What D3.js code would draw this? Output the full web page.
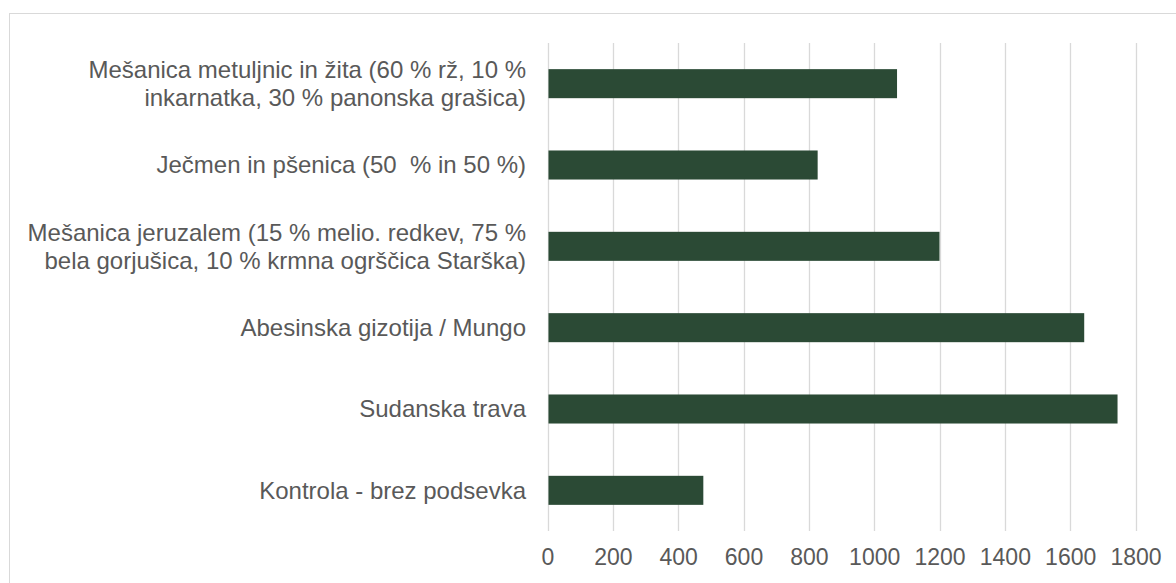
<!DOCTYPE html>
<html>
<head>
<meta charset="utf-8">
<script src="https://cdn.jsdelivr.net/npm/d3@7"></script>
<style>
  html, body { margin: 0; padding: 0; background: #fff; }
  svg { display: block; }
  text { white-space: pre; }
</style>
</head>
<body>
<svg id="chart" width="1176" height="583"></svg>
<script>
// Categories, top to bottom, each split into display lines
const categories = [
  "Mešanica metuljnic in žita (60 % rž, 10 %|inkarnatka, 30 % panonska grašica)",
  "Ječmen in pšenica (50  % in 50 %)",
  "Mešanica jeruzalem (15 % melio. redkev, 75 %|bela gorjušica, 10 % krmna ogrščica Starška)",
  "Abesinska gizotija / Mungo",
  "Sudanska trava",
  "Kontrola - brez podsevka"
];
const values = [1070, 827, 1200, 1643, 1745, 477];
const tickValues = [0, 200, 400, 600, 800, 1000, 1200, 1400, 1600, 1800];

const svg = d3.select("#chart");
const W = 1176, H = 583;
const plot = { left: 547.5, right: 1135.5, top: 43, bottom: 531 };
const fontFamily = "'Liberation Sans', Arial, sans-serif";
const textColor = "#595959";

// chart border
svg.append("rect")
  .attr("x", 9.5).attr("y", 13.5)
  .attr("width", W + 20).attr("height", H + 20)
  .attr("fill", "#fff")
  .attr("stroke", "#d9d9d9").attr("stroke-width", 1);

const x = d3.scaleLinear().domain([0, 1800]).range([plot.left, plot.right]);
const y = d3.scaleBand().domain(categories)
  .range([plot.top, plot.bottom])
  .paddingInner(0.643).paddingOuter(0.3215);

// gridlines
svg.append("g").selectAll("line").data(tickValues).join("line")
  .attr("x1", d => Math.round(x(d)) + 0.5)
  .attr("x2", d => Math.round(x(d)) + 0.5)
  .attr("y1", plot.top).attr("y2", plot.bottom)
  .attr("stroke", "#d9d9d9").attr("stroke-width", 1.3);

// bars
svg.append("g").selectAll("rect").data(categories).join("rect")
  .attr("x", x(0) + 1)
  .attr("y", d => y(d))
  .attr("width", (d, i) => x(values[i]) - x(0) - 1)
  .attr("height", y.bandwidth())
  .attr("fill", "#2b4a35");

// x axis labels
const xAxis = d3.axisBottom(x).tickValues(tickValues).tickSize(0).tickPadding(0)
  .tickFormat(d3.format("d"));
const gx = svg.append("g").attr("transform", `translate(0, 549)`).call(xAxis);
gx.select(".domain").remove();
gx.selectAll("text")
  .attr("dy", "0.71em")
  .attr("fill", textColor)
  .style("font-family", fontFamily)
  .style("font-size", "23px");

// category labels
const lineH = 28;
const gy = svg.append("g");
categories.forEach(c => {
  const lines = c.split("|");
  const cy = y(c) + y.bandwidth() / 2;
  const t = gy.append("text")
    .attr("text-anchor", "end")
    .attr("fill", textColor)
    .style("font-family", fontFamily)
    .style("font-size", "24px");
  lines.forEach((ln, k) => {
    t.append("tspan")
      .attr("x", 526)
      .attr("y", cy + (k - (lines.length - 1) / 2) * lineH)
      .attr("dy", "0.35em")
      .text(ln);
  });
});
</script>
</body>
</html>
